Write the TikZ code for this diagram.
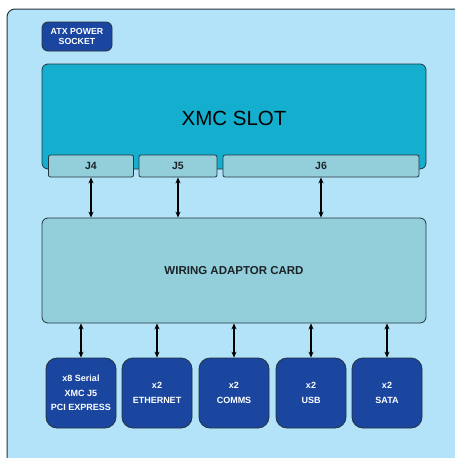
\documentclass[tikz,border=0pt]{standalone}
\usepackage{fontspec}
\setmainfont{Liberation Sans}
\usetikzlibrary{arrows.meta}
\definecolor{panelBlue}{HTML}{B3E3F8}
\definecolor{slotCyan}{HTML}{14AFCF}
\definecolor{cardTeal}{HTML}{92CFDB}
\definecolor{portBlue}{HTML}{1A46A0}
\definecolor{edgeGray}{HTML}{26343C}
\definecolor{labelDark}{HTML}{1C2226}
\begin{document}
\begin{tikzpicture}
[x=1pt,y=-1pt,%
  lineDecorate/.style={{Stealth[length=6pt,width=5pt]}-{Stealth[length=6pt,width=5pt]},line width=1.6pt,black},%
  boardDecorate/.style={draw=edgeGray,line width=0.8pt,rounded corners=6pt,inner sep=0pt,text=labelDark,align=center},%
  portDecorate/.style={boardDecorate,fill=portBlue,text=white,rounded corners=11pt,
    minimum width=70pt,minimum height=70pt,font=\fontsize{9}{14.5}\selectfont\bfseries}]
\useasboundingbox (0,0) rectangle (455,458);
\clip (0,0) rectangle (455,458);
%% panel
\draw[draw=edgeGray,line width=1pt,fill=panelBlue,rounded corners=8pt] (7,9) rectangle (480,480);
%% boards
\node (atx) at (77,36.5) [boardDecorate,fill=portBlue,text=white,rounded corners=6pt,
  minimum width=70pt,minimum height=29pt,font=\fontsize{8.8}{9.7}\selectfont\bfseries] {ATX POWER\\SOCKET};
\node (xmc) at (234,116.5) [boardDecorate,fill=slotCyan,minimum width=384pt,minimum height=105pt] {};
\node at (234,118) [text=black,font=\fontsize{20.5}{24}\selectfont] {XMC SLOT};
\node (card) at (234,270.5) [boardDecorate,fill=cardTeal,minimum width=384pt,minimum height=105pt,
  font=\fontsize{11.5}{13}\selectfont\bfseries] {WIRING ADAPTOR CARD};
%% connectors on the slot
\foreach \nodename/\x/\w in {J4/91/85, J5/178/78, J6/321/196}
{
  \node (\nodename) at (\x,166) [boardDecorate,fill=cardTeal,rounded corners=2pt,
    minimum width=\w pt,minimum height=22pt,font=\fontsize{10.5}{12}\selectfont\bfseries] {\nodename};
}
%% ports
\foreach \nodename/\x/\label in {
  pcie/81/{x8 Serial\\XMC J5\\PCI EXPRESS}, eth/157/{x2\\ETHERNET},
  comms/234/{x2\\COMMS}, usb/311/{x2\\USB}, sata/387/{x2\\SATA}}
{
  \node (\nodename) at (\x,393) [portDecorate] {\label};
}
%% edges or lines
\foreach \startnode in {J4, J5, J6}
{
  \draw[lineDecorate] (\startnode.south) -- (\startnode.south |- card.north);
}
\foreach \endnode in {pcie, eth, comms, usb, sata}
{
  \draw[lineDecorate] (card.south -| \endnode.north) -- (\endnode.north);
}
\end{tikzpicture}
\end{document}
